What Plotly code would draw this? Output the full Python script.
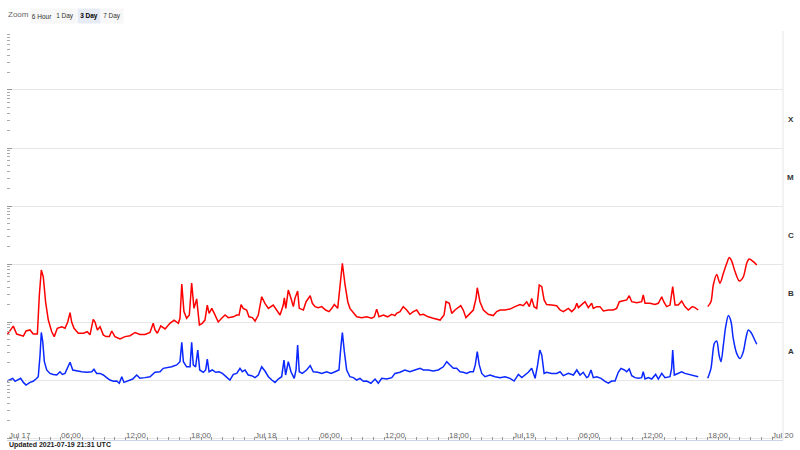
import math
import pandas as pd
import plotly.graph_objects as go

# GOES X-ray flux (W/m^2). None marks the data gap.
red_jul17_time = ["00:00", "00:35", "00:54", "01:31", "01:46", "02:08", "02:26", "02:49", "03:00", "03:11",
                  "03:22", "03:35", "03:50", "04:09", "04:23", "04:40", "05:05", "05:23", "05:38", "05:51",
                  "06:00", "06:13", "06:37", "07:05", "07:27", "07:42", "08:00", "08:10", "08:23", "08:38",
                  "08:56", "09:11", "09:30", "09:43", "10:01", "10:29", "10:57", "11:25", "11:53", "12:20",
                  "12:48", "13:16", "13:34", "13:44", "13:57", "14:16", "14:40", "15:07", "15:30", "15:54",
                  "16:03", "16:13", "16:25", "16:40", "16:55", "17:08", "17:21", "17:36", "17:51", "18:07",
                  "18:22", "18:35", "18:45", "19:00", "19:14", "19:36", "19:55", "20:14", "20:32", "21:00",
                  "21:19", "21:32", "21:43", "21:55", "22:14", "22:27", "22:46", "23:01", "23:19", "23:38", "23:56"]
red_jul17_flux = [6.0e-8, 8.5e-8, 6.2e-8, 5.7e-8, 7.0e-8, 7.3e-8, 6.2e-8, 6.2e-8, 2.9e-7, 7.9e-7,
                  6.0e-7, 2.2e-7, 1.08e-7, 6.8e-8, 5.6e-8, 7.8e-8, 8.3e-8, 7.8e-8, 1.0e-7, 1.45e-7,
                  1.0e-7, 7.8e-8, 6.4e-8, 6.4e-8, 6.8e-8, 6.0e-8, 1.11e-7, 1.0e-7, 7.3e-8, 8.3e-8,
                  6.0e-8, 5.6e-8, 5.6e-8, 7.0e-8, 5.6e-8, 5.1e-8, 5.6e-8, 5.8e-8, 6.6e-8, 6.1e-8,
                  6.1e-8, 6.6e-8, 9.5e-8, 7.3e-8, 6.4e-8, 8.6e-8, 7.6e-8, 9.5e-8, 1.08e-7, 9.5e-8,
                  1.16e-7, 4.5e-7, 1.51e-7, 1.16e-7, 1.32e-7, 4.7e-7, 1.72e-7, 2.5e-7, 8.9e-8, 9.5e-8,
                  1.08e-7, 1.96e-7, 1.41e-7, 1.72e-7, 1.41e-7, 1.0e-7, 1.16e-7, 1.32e-7, 1.19e-7, 1.23e-7,
                  1.32e-7, 1.32e-7, 2.0e-7, 1.72e-7, 1.61e-7, 1.23e-7, 1.19e-7, 1.04e-7, 1.32e-7, 2.73e-7, 2.1e-7]

red_jul18_time = ["00:15", "00:42", "01:01", "01:20", "01:38", "01:44", "01:52", "02:06", "02:21", "02:34",
                  "02:43", "02:58", "03:07", "03:30", "03:45", "03:57", "04:08", "04:20", "04:35", "04:53",
                  "05:12", "05:34", "05:53", "06:08", "06:22", "06:41", "06:54", "07:07", "07:22", "07:37",
                  "07:49", "08:08", "08:27", "08:55", "09:22", "09:50", "10:05", "10:18", "10:31", "10:55",
                  "11:19", "11:42", "12:00", "12:09", "12:28", "12:46", "13:05", "13:23", "13:42", "14:01",
                  "14:19", "14:38", "15:05", "15:33", "16:11", "16:33", "16:44", "17:02", "17:16", "17:34",
                  "18:06", "18:20", "18:35", "18:58", "19:16", "19:31", "19:38", "19:53", "20:12", "20:39",
                  "21:07", "21:26", "21:45", "22:12", "22:40", "23:08", "23:36", "23:54"]
red_jul18_flux = [1.72e-7, 1.96e-7, 1.61e-7, 1.32e-7, 1.96e-7, 2.6e-7, 1.72e-7, 3.56e-7, 2.56e-7, 1.84e-7,
                  2.56e-7, 3.42e-7, 1.72e-7, 1.61e-7, 2.24e-7, 2.5e-7, 2.84e-7, 2.1e-7, 1.84e-7, 1.77e-7,
                  1.84e-7, 1.61e-7, 1.51e-7, 1.72e-7, 2.0e-7, 1.72e-7, 4.95e-7, 1.03e-6, 4.35e-7, 2.24e-7,
                  1.72e-7, 1.47e-7, 1.23e-7, 1.19e-7, 1.23e-7, 1.16e-7, 1.23e-7, 1.67e-7, 1.23e-7, 1.32e-7,
                  1.23e-7, 1.36e-7, 1.29e-7, 1.41e-7, 1.51e-7, 1.84e-7, 1.61e-7, 1.36e-7, 1.51e-7, 1.61e-7,
                  1.32e-7, 1.36e-7, 1.23e-7, 1.16e-7, 1.08e-7, 1.32e-7, 2.24e-7, 2.1e-7, 1.41e-7, 1.61e-7,
                  1.91e-7, 1.61e-7, 1.19e-7, 1.41e-7, 1.61e-7, 2.56e-7, 3.9e-7, 2.24e-7, 1.61e-7, 1.36e-7,
                  1.29e-7, 1.51e-7, 1.61e-7, 1.61e-7, 1.67e-7, 1.84e-7, 2.0e-7, 1.91e-7]

red_jul19_time = ["00:13", "00:28", "00:41", "00:54", "01:09", "01:23", "01:37", "01:50", "02:04", "02:32",
                  "03:00", "03:19", "03:37", "04:05", "04:24", "04:42", "04:52", "05:01", "05:19", "05:38",
                  "05:56", "06:15", "06:24", "06:43", "07:01", "07:20", "07:48", "08:15", "08:34", "08:49",
                  "09:11", "09:30", "09:44", "09:58", "10:26", "10:53", "11:02", "11:12", "11:40", "12:07",
                  "12:26", "12:45", "12:56", "13:12", "13:31", "13:46", "13:59", "14:17", "14:36", "14:54",
                  "15:13", "15:35", "15:50", "16:08", "16:30", "17:01", "17:19", "17:32", "17:51", "18:09",
                  "18:28", "18:47", "19:01", "19:14", "19:33", "19:57", "20:19", "20:38", "20:51", "21:15", "21:34"]
red_jul19_flux = [2.24e-7, 1.84e-7, 2.56e-7, 1.84e-7, 1.72e-7, 4.35e-7, 4.07e-7, 2.4e-7, 2.0e-7, 1.96e-7,
                  1.91e-7, 1.61e-7, 1.51e-7, 1.72e-7, 1.51e-7, 1.72e-7, 2.1e-7, 1.77e-7, 1.96e-7, 2.24e-7,
                  1.77e-7, 2.1e-7, 1.72e-7, 1.84e-7, 1.84e-7, 1.55e-7, 1.61e-7, 1.61e-7, 1.72e-7, 2.24e-7,
                  2.33e-7, 2.4e-7, 2.84e-7, 2.24e-7, 2.16e-7, 2.24e-7, 2.92e-7, 2.1e-7, 2.1e-7, 2.0e-7,
                  2.1e-7, 2.73e-7, 2.24e-7, 1.84e-7, 1.96e-7, 4.07e-7, 1.96e-7, 1.96e-7, 2.3e-7, 1.84e-7,
                  1.61e-7, 1.84e-7, 1.77e-7, 1.61e-7, None, 1.84e-7, 2.24e-7, 4.35e-7, 6.6e-7, 4.65e-7,
                  6.9e-7, 1.03e-6, 1.29e-6, 1.13e-6, 7.4e-7, 5.1e-7, 6.0e-7, 1.03e-6, 1.22e-6, 1.1e-6, 9.6e-7]

blue_jul17_time = ["00:00", "00:17", "00:32", "00:45", "01:03", "01:16", "01:31", "01:46", "02:08", "02:26",
                   "02:41", "02:54", "03:04", "03:11", "03:19", "03:28", "03:41", "03:59", "04:18", "04:37",
                   "04:55", "05:08", "05:23", "05:41", "05:51", "06:06", "06:28", "06:56", "07:24", "07:52",
                   "08:04", "08:19", "08:38", "08:56", "09:15", "09:33", "09:52", "10:11", "10:25", "10:39",
                   "10:51", "11:15", "11:40", "12:02", "12:20", "12:48", "13:16", "13:44", "14:12", "14:30",
                   "14:49", "15:17", "15:45", "16:03", "16:13", "16:22", "16:40", "16:59", "17:08", "17:17",
                   "17:30", "17:42", "17:53", "18:13", "18:26", "18:35", "18:45", "19:03", "19:22", "19:40",
                   "19:59", "20:23", "20:41", "21:00", "21:19", "21:37", "21:50", "22:05", "22:23", "22:42",
                   "23:01", "23:19", "23:38", "23:56"]
blue_jul17_flux = [9.6e-9, 1.0e-8, 1.07e-8, 9.5e-9, 1.0e-8, 1.07e-8, 9.1e-9, 8.2e-9, 9.1e-9, 9.5e-9,
                   1.04e-8, 1.14e-8, 2.7e-8, 6.6e-8, 4.57e-8, 2.07e-8, 1.49e-8, 1.3e-8, 1.25e-8, 1.22e-8,
                   1.39e-8, 1.25e-8, 1.3e-8, 1.82e-8, 2.02e-8, 1.49e-8, 1.43e-8, 1.39e-8, 1.36e-8, 1.39e-8,
                   1.53e-8, 1.3e-8, 1.3e-8, 1.22e-8, 1.1e-8, 1.0e-8, 9.5e-9, 9.6e-9, 8.8e-9, 1.14e-8,
                   9.1e-9, 9.6e-9, 1.04e-8, 1.22e-8, 1.07e-8, 1.1e-8, 1.14e-8, 1.36e-8, 1.39e-8, 1.59e-8,
                   1.63e-8, 1.69e-8, 1.82e-8, 2.07e-8, 4.47e-8, 2.07e-8, 1.69e-8, 1.69e-8, 4.47e-8, 1.82e-8,
                   1.69e-8, 3.29e-8, 1.49e-8, 1.36e-8, 1.49e-8, 2.3e-8, 1.39e-8, 1.49e-8, 1.36e-8, 1.39e-8,
                   1.3e-8, 1.14e-8, 1.0e-8, 1.25e-8, 1.3e-8, 1.59e-8, 1.39e-8, 1.49e-8, 1.22e-8, 1.19e-8,
                   1.1e-8, 1.22e-8, 1.69e-8, 1.43e-8]

blue_jul18_time = ["00:15", "00:34", "00:52", "01:10", "01:29", "01:42", "01:51", "02:06", "02:21", "02:39",
                   "02:49", "02:58", "03:07", "03:24", "03:48", "04:08", "04:25", "04:50", "05:12", "05:40",
                   "06:04", "06:26", "06:48", "06:58", "07:07", "07:18", "07:31", "07:49", "08:08", "08:27",
                   "08:45", "09:04", "09:22", "09:46", "10:09", "10:27", "10:46", "11:14", "11:42", "12:00",
                   "12:28", "12:55", "13:23", "13:51", "14:19", "14:38", "15:05", "15:33", "16:01", "16:29",
                   "16:48", "17:06", "17:25", "17:43", "18:02", "18:20", "18:39", "18:58", "19:16", "19:27",
                   "19:38", "19:49", "20:03", "20:21", "20:49", "21:17", "21:45", "22:12", "22:40", "23:03",
                   "23:27", "23:46"]
blue_jul18_flux = [1.14e-8, 1.0e-8, 9.1e-9, 1.04e-8, 1.14e-8, 2.21e-8, 1.22e-8, 2.07e-8, 1.39e-8, 1.07e-8,
                   1.49e-8, 4.0e-8, 1.39e-8, 1.3e-8, 1.49e-8, 1.77e-8, 1.39e-8, 1.36e-8, 1.3e-8, 1.39e-8,
                   1.3e-8, 1.39e-8, 1.49e-8, 3.52e-8, 6.6e-8, 3.08e-8, 1.49e-8, 1.14e-8, 1.1e-8, 1.0e-8,
                   1.07e-8, 9.5e-9, 9.6e-9, 8.8e-9, 1.04e-8, 8.8e-9, 1.07e-8, 1.04e-8, 1.1e-8, 1.3e-8,
                   1.36e-8, 1.49e-8, 1.39e-8, 1.49e-8, 1.59e-8, 1.49e-8, 1.49e-8, 1.43e-8, 1.49e-8, 1.69e-8,
                   2.07e-8, 1.82e-8, 1.59e-8, 1.59e-8, 1.39e-8, 1.36e-8, 1.3e-8, 1.39e-8, 1.39e-8, 1.82e-8,
                   3.08e-8, 1.82e-8, 1.3e-8, 1.14e-8, 1.22e-8, 1.14e-8, 1.1e-8, 1.14e-8, 1.07e-8, 9.6e-9,
                   1.25e-8, 1.1e-8]

blue_jul19_time = ["00:04", "00:22", "00:41", "01:00", "01:14", "01:26", "01:37", "01:50", "02:04", "02:32",
                   "03:00", "03:19", "03:37", "04:05", "04:33", "04:52", "05:10", "05:28", "05:47", "05:56",
                   "06:11", "06:24", "06:43", "07:07", "07:29", "07:48", "08:06", "08:25", "08:43", "08:58",
                   "09:17", "09:30", "09:44", "09:58", "10:16", "10:35", "10:53", "11:02", "11:12", "11:30",
                   "11:49", "12:11", "12:26", "12:45", "13:03", "13:31", "13:40", "13:46", "13:55", "14:17",
                   "14:36", "14:54", "15:13", "15:32", "15:50", "16:08", "16:30", "17:01", "17:19", "17:38",
                   "17:51", "18:04", "18:15", "18:28", "18:41", "18:56", "19:11", "19:23", "19:42", "20:01",
                   "20:19", "20:34", "20:47", "21:02", "21:20", "21:34"]
blue_jul19_flux = [1.22e-8, 1.36e-8, 1.59e-8, 1.07e-8, 1.82e-8, 3.29e-8, 2.7e-8, 1.3e-8, 1.36e-8, 1.3e-8,
                   1.3e-8, 1.39e-8, 1.19e-8, 1.3e-8, 1.22e-8, 1.49e-8, 1.22e-8, 1.36e-8, 1.1e-8, 1.14e-8,
                   1.49e-8, 1.1e-8, 1.14e-8, 1.07e-8, 9.5e-9, 8.8e-9, 9.6e-9, 9.6e-9, 1.36e-8, 1.59e-8,
                   1.49e-8, 1.39e-8, 1.55e-8, 1.19e-8, 1.1e-8, 1.07e-8, 1.1e-8, 1.39e-8, 1.04e-8, 1.1e-8,
                   1.04e-8, 1.25e-8, 1.04e-8, 1.3e-8, 1.1e-8, 1.14e-8, 1.59e-8, 3.29e-8, 1.22e-8, 1.3e-8,
                   1.39e-8, 1.3e-8, 1.25e-8, 1.22e-8, 1.19e-8, 1.14e-8, None, 1.07e-8, 1.59e-8, 4.3e-8,
                   4.7e-8, 2.7e-8, 2.07e-8, 4.0e-8, 8.3e-8, 1.29e-7, 1.0e-7, 5.2e-8, 2.88e-8, 2.35e-8,
                   3.08e-8, 5.36e-8, 7.3e-8, 6.6e-8, 5.1e-8, 4.13e-8]

# x tick labels every 6 hours
tick_vals = ["2021-07-17 00:00", "2021-07-17 06:00", "2021-07-17 12:00", "2021-07-17 18:00",
             "2021-07-18 00:00", "2021-07-18 06:00", "2021-07-18 12:00", "2021-07-18 18:00",
             "2021-07-19 00:00", "2021-07-19 06:00", "2021-07-19 12:00", "2021-07-19 18:00",
             "2021-07-20 00:00"]
tick_text = ["Jul 17", "06:00", "12:00", "18:00", "Jul 18", "06:00", "12:00", "18:00",
             "Jul 19", "06:00", "12:00", "18:00", "Jul 20"]
day_lines = ["2021-07-18 00:00", "2021-07-19 00:00"]

# flare classes on the right (centre of each band)
class_labels = ["X", "M", "C", "B", "A"]
class_mid = [10**-3.5, 10**-4.5, 10**-5.5, 10**-6.5, 10**-7.5]

zoom_buttons = ["6 Hour", "1 Day", "3 Day", "7 Day"]
updated_text = "Updated 2021-07-19 21:31 UTC"


def build_series(days, times, fluxes):
    t, f = [], []
    for d, ts, fs in zip(days, times, fluxes):
        assert len(ts) == len(fs)
        t += [pd.Timestamp(f"2021-07-{d} {x}") for x in ts]
        f += fs
    return t, f


red_t, red_f = build_series([17, 18, 19], [red_jul17_time, red_jul18_time, red_jul19_time],
                            [red_jul17_flux, red_jul18_flux, red_jul19_flux])
blue_t, blue_f = build_series([17, 18, 19], [blue_jul17_time, blue_jul18_time, blue_jul19_time],
                              [blue_jul17_flux, blue_jul18_flux, blue_jul19_flux])

fig = go.Figure()

for t, f, color in [(red_t, red_f, "#ff0000"), (blue_t, blue_f, "#0a28ff")]:
    gap = f.index(None)
    # before the gap: raw jagged data, after the gap: smooth curve
    fig.add_trace(go.Scatter(x=t[:gap], y=f[:gap], mode="lines",
                             line=dict(color=color, width=1.5), showlegend=False))
    fig.add_trace(go.Scatter(x=t[gap + 1:], y=f[gap + 1:], mode="lines",
                             line=dict(color=color, width=1.5, shape="spline", smoothing=0.8),
                             showlegend=False))

fig.update_layout(
    width=800, height=450,
    margin=dict(l=7, r=17, t=31, b=10),
    plot_bgcolor="white", paper_bgcolor="white",
    font=dict(family="Liberation Sans, Arial, sans-serif", color="#666666"),
)

fig.update_xaxes(
    range=["2021-07-17 00:00", "2021-07-20 00:00"],
    showgrid=False, zeroline=False,
    showline=True, linecolor="#ccd6eb", linewidth=1,
    ticks="inside", ticklen=3, tickcolor="#999999",
    tick0="2021-07-17 00:00", dtick=3600000,
    showticklabels=False,
)

fig.update_yaxes(
    type="log", range=[-9.034, -1.983],
    showgrid=True, gridcolor="#e6e6e6", gridwidth=1,
    zeroline=False, showline=False,
    ticks="inside", ticklen=5, tickcolor="#999999", dtick=1,
    showticklabels=False,
    minor=dict(ticks="inside", ticklen=3, tickcolor="#aaaaaa", dtick="D1", showgrid=False),
)

# left axis line, right edge line and day separators
fig.add_shape(type="line", xref="paper", yref="y", x0=0, x1=0, y0=-8.74, y1=-1.983,
              line=dict(color="#aaaaaa", width=1))
fig.add_shape(type="line", xref="paper", yref="paper", x0=1, x1=1, y0=0, y1=1,
              line=dict(color="#e6e6e6", width=1))
for d in day_lines:
    fig.add_shape(type="line", xref="x", yref="y", x0=d, x1=d, y0=-8.77, y1=-1.983,
                  line=dict(color="#999999", width=1))

# x tick labels
for i, (v, txt) in enumerate(zip(tick_vals, tick_text)):
    fig.add_annotation(x=v, y=0, xref="x", yref="paper", text=txt, showarrow=False,
                       xanchor="left" if i == 0 else "center", yanchor="middle", yshift=5,
                       font=dict(size=8, color="#666666"))

# class letters on the right
for lab, val in zip(class_labels, class_mid):
    fig.add_annotation(x=1, y=math.log10(val), xref="paper", yref="y",
                       text=f"<b>{lab}</b>", showarrow=False, xanchor="center", xshift=7.5,
                       font=dict(size=8, color="#333333"))

# zoom selector
fig.add_annotation(x=0, y=1, xref="paper", yref="paper", text="Zoom", showarrow=False,
                   xanchor="left", yanchor="middle", yshift=16.5, xshift=-1,
                   font=dict(size=8, color="#666666"))
btn_centers = [41.7, 64.7, 88.7, 112]
for lab, cx in zip(zoom_buttons, btn_centers):
    selected = lab == "3 Day"
    fig.add_annotation(x=(cx - 7) / 776, y=1, xref="paper", yref="paper",
                       text=f"<b>{lab}</b>" if selected else lab, showarrow=False,
                       xanchor="center", yanchor="middle", yshift=15.5,
                       width=21, height=13, borderpad=0.5,
                       bgcolor="#e6ebf5" if selected else "#f7f7f7",
                       font=dict(size=6.5, color="#000000" if selected else "#333333"))

# footer
fig.add_annotation(x=0, y=0, xref="paper", yref="paper", text=f"<b>{updated_text}</b>",
                   showarrow=False, xanchor="left", yanchor="middle", yshift=-5,
                   font=dict(size=7, color="#222222"))

# drop the default page margin so the 800x450 figure fills the window
fig.write_html("out.html", config={"displayModeBar": False},
               post_script="document.body.style.margin='0px';")
